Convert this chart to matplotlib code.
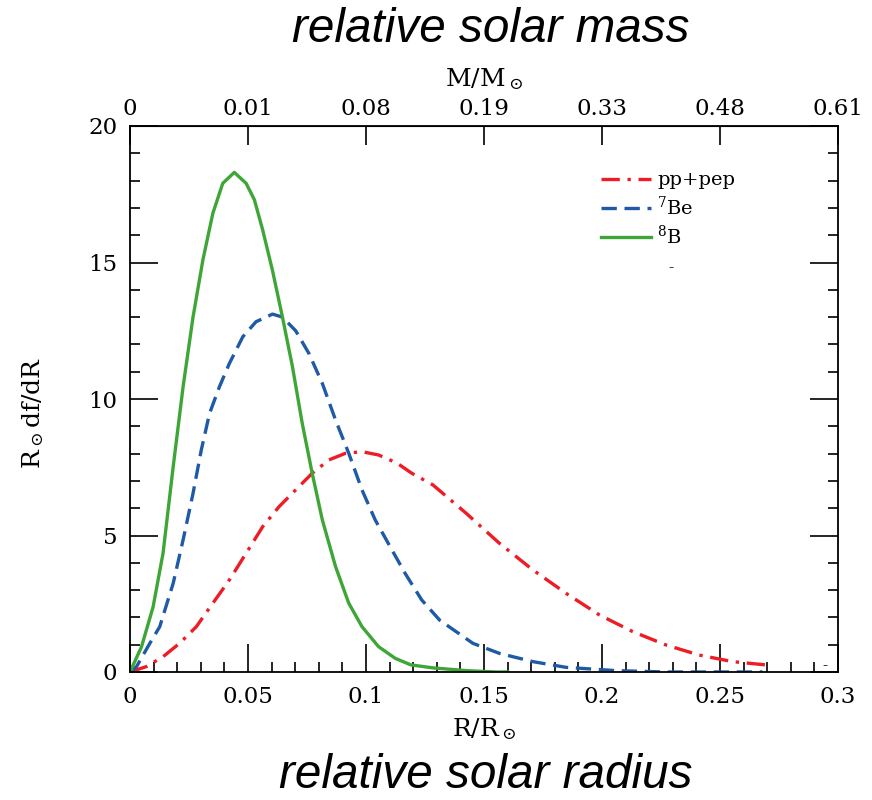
import matplotlib
matplotlib.use("Agg")
import matplotlib.pyplot as plt
from matplotlib.ticker import MultipleLocator

# --- data ---
pp_r = [0, 0.007, 0.014, 0.021, 0.0281, 0.0351, 0.0421, 0.0492, 0.0562, 0.0632,
        0.0702, 0.0772, 0.0843, 0.0913, 0.0983, 0.1053, 0.113, 0.1194, 0.1284,
        0.1425, 0.1566, 0.1707, 0.1848, 0.1989, 0.213, 0.2271, 0.2412, 0.2553,
        0.2694, 0.272]
pp_f = [0, 0.2, 0.56, 1.05, 1.66, 2.52, 3.37, 4.35, 5.32, 6.06,
        6.67, 7.28, 7.77, 8.01, 8.07, 7.95, 7.66, 7.28, 6.85,
        5.81, 4.71, 3.74, 2.88, 2.09, 1.48, 0.99, 0.62, 0.38,
        0.26, 0.25]

be7_r = [0, 0.0028, 0.0084, 0.0126, 0.0183, 0.0225, 0.0267, 0.0302, 0.0337, 0.0379,
         0.0421, 0.0478, 0.0534, 0.0604, 0.0646, 0.0702, 0.0758, 0.0815, 0.0871,
         0.0927, 0.0983, 0.1039, 0.111, 0.1166, 0.1236, 0.1312, 0.1453, 0.1566,
         0.1707, 0.1848, 0.206, 0.227, 0.268]
be7_f = [0, 0.2, 1.05, 1.66, 3.25, 4.84, 6.54, 8.13, 9.47, 10.45,
         11.3, 12.28, 12.83, 13.11, 13.0, 12.5, 11.67, 10.57, 9.23,
         8.01, 6.67, 5.57, 4.47, 3.61, 2.64, 1.9, 1.05, 0.68,
         0.38, 0.17, 0.05, 0.0, 0.0]

b8_r = [0, 0.0049, 0.0098, 0.014, 0.0183, 0.0225, 0.0267, 0.0309, 0.0351, 0.0393,
        0.0442, 0.0492, 0.0527, 0.0562, 0.0604, 0.0646, 0.0688, 0.073, 0.0772,
        0.0815, 0.0871, 0.0927, 0.0983, 0.1053, 0.1124, 0.119, 0.1285, 0.1426,
        0.155, 0.16]
b8_f = [0, 0.93, 2.39, 4.35, 7.52, 10.45, 13.0, 15.1, 16.8, 17.9,
        18.3, 17.9, 17.3, 16.2, 14.7, 13.0, 11.2, 9.1, 7.28,
        5.57, 3.86, 2.52, 1.66, 0.93, 0.5, 0.26, 0.15, 0.05,
        0.0, 0.0]

top_pos = [0, 0.05, 0.1, 0.15, 0.2, 0.25, 0.3]
top_labels = ["0", "0.01", "0.08", "0.19", "0.33", "0.48", "0.61"]

red = "#ee1c25"
blue = "#1f5aa6"
green = "#3ea637"

plt.rcParams["font.family"] = "DejaVu Serif"
plt.rcParams["mathtext.fontset"] = "dejavuserif"

fig = plt.figure(figsize=(8.72, 8.0), dpi=100)
ax = fig.add_axes([130 / 872, 128 / 800, 708 / 872, 546 / 800])

ax.plot(pp_r, pp_f, color=red, lw=2.4, dashes=(5.5, 2.3, 1, 2.3), label="pp+pep")
ax.plot(be7_r, be7_f, color=blue, lw=2.4, dashes=(4.6, 2.3), label="$^7$Be")
ax.plot(b8_r, b8_f, color=green, lw=2.4, label="$^8$B")

ax.set_xlim(0, 0.3)
ax.set_ylim(0, 20)
ax.xaxis.set_major_locator(MultipleLocator(0.05))
ax.xaxis.set_minor_locator(MultipleLocator(0.01))
ax.yaxis.set_major_locator(MultipleLocator(5))
ax.yaxis.set_minor_locator(MultipleLocator(1))
ax.xaxis.set_major_formatter(plt.FuncFormatter(lambda v, p: f"{v:g}"))

ax.tick_params(axis="x", which="both", direction="in", top=False, bottom=True,
               labelsize=16.5, pad=10)
ax.tick_params(axis="y", which="both", direction="in", left=True, right=True,
               labelsize=16.5, pad=9)
ax.tick_params(which="major", length=20, width=1.2)
ax.tick_params(which="minor", length=7, width=1.2)
for s in ax.spines.values():
    s.set_linewidth(1.3)

sec = ax.secondary_xaxis("top")
sec.set_xticks(top_pos, top_labels)
sec.tick_params(direction="in", length=14, width=1.2, labelsize=16.5, pad=4)
sec.xaxis.set_minor_locator(plt.NullLocator())
sec.set_xlabel("M/M$_\\odot$", fontsize=18, labelpad=9)

ax.set_xlabel("R/R$_\\odot$", fontsize=18, labelpad=6)
fig.text(33 / 872, 1 - 413 / 800, "R$_\\odot$df/dR", rotation=90, fontsize=18,
         ha="center", va="center")

ax.legend(loc="upper left", bbox_to_anchor=(0.665, 0.917), frameon=False,
          fontsize=14, handlelength=2.6, handletextpad=0.3, labelspacing=0.3,
          borderpad=0, borderaxespad=0)

ax.text(0.229, 14.8, "-", fontsize=11, ha="center", va="center")
ax.text(0.2945, 0.2, "-", fontsize=11, ha="center", va="center")

fig.text(491 / 872, 1 - 30 / 800, "relative solar mass", fontsize=34.3,
         family="Liberation Sans", style="italic", ha="center", va="center")
fig.text(486 / 872, 1 - 775 / 800, "relative solar radius", fontsize=34.3,
         family="Liberation Sans", style="italic", ha="center", va="center")

fig.savefig("out.png", dpi=100)
